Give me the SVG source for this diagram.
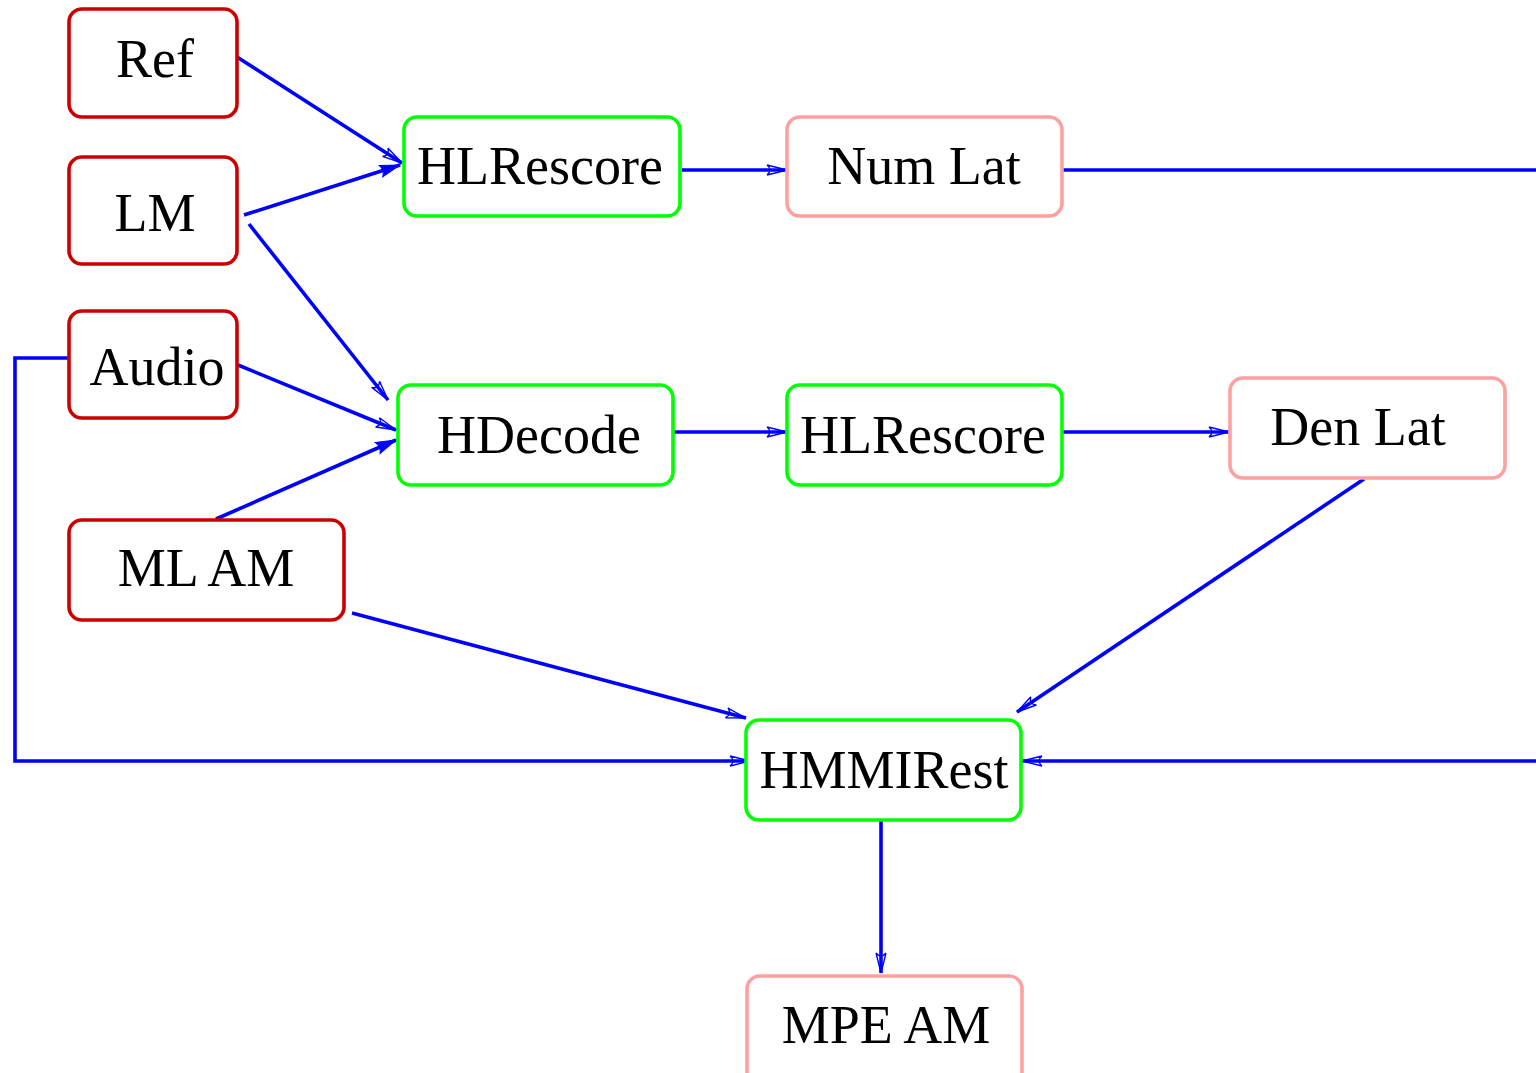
<svg xmlns="http://www.w3.org/2000/svg" width="1536" height="1073" viewBox="0 0 1536 1073">
  <style>
    .box { fill: #ffffff; stroke-width: 3.6; }
    .src { stroke: #cc0000; }
    .tool { stroke: #00ff00; }
    .data { stroke: #ffa0a0; }
    .lbl { font-family: "Liberation Serif", "Times New Roman", serif; font-size: 54px; fill: #000000; text-anchor: middle; }
    .wire { fill: none; stroke: #0000ff; stroke-width: 3.6; }
  </style>
  <defs>
    <!-- open stealth-style head -->
    <marker id="open" markerUnits="userSpaceOnUse" markerWidth="30" markerHeight="20" viewBox="-24 -10 30 20" refX="0" refY="0" orient="auto">
      <path d="M -20,-5 L 0,0 L -20,5 M -20,-5 Q -14,0 -20,5" fill="none" stroke="#0000ff" stroke-width="1.4"/>
    </marker>
    <!-- solid head -->
    <marker id="solid" markerUnits="userSpaceOnUse" markerWidth="30" markerHeight="20" viewBox="-24 -10 30 20" refX="0" refY="0" orient="auto">
      <path d="M -20,-6 L 0,0 L -20,6 Q -16,0 -20,-6 Z" fill="#0000ff" stroke="#0000ff" stroke-width="1"/>
    </marker>
  </defs>

  <g id="connectors">
    <path class="wire" d="M 237,57 L 402,163" marker-end="url(#open)"/>
    <path class="wire" d="M 244,215 L 400,165" marker-end="url(#solid)"/>
    <path class="wire" d="M 249,224 L 388,400" marker-end="url(#open)"/>
    <path class="wire" d="M 238,365 L 396,430" marker-end="url(#open)"/>
    <path class="wire" d="M 216,519 L 396,440" marker-end="url(#solid)"/>
    <path class="wire" d="M 682,170 L 787,170" marker-end="url(#open)"/>
    <path class="wire" d="M 1062,170 L 1536,170"/>
    <path class="wire" d="M 673,432 L 787,432" marker-end="url(#open)"/>
    <path class="wire" d="M 1062,432 L 1229,432" marker-end="url(#open)"/>
    <path class="wire" d="M 1364,479 L 1017,712" marker-end="url(#open)"/>
    <path class="wire" d="M 352,613 L 746,718" marker-end="url(#open)"/>
    <path class="wire" d="M 69,358 L 15,358 L 15,761 L 750,761" marker-end="url(#open)"/>
    <path class="wire" d="M 1536,761 L 1022,761" marker-end="url(#open)"/>
    <path class="wire" d="M 881,820 L 881,973" marker-end="url(#open)"/>
  </g>

  <g id="ref">
    <rect class="box src" x="69" y="9" width="168" height="108" rx="13"/>
    <text class="lbl" x="155" y="77">Ref</text>
  </g>
  <g id="lm">
    <rect class="box src" x="69" y="157" width="168" height="107" rx="13"/>
    <text class="lbl" x="155" y="231">LM</text>
  </g>
  <g id="audio">
    <rect class="box src" x="69" y="311" width="168" height="107" rx="13"/>
    <text class="lbl" x="157" y="385">Audio</text>
  </g>
  <g id="ml-am">
    <rect class="box src" x="69" y="520" width="275" height="100" rx="13"/>
    <text class="lbl" x="206" y="586">ML AM</text>
  </g>
  <g id="hlrescore-num">
    <rect class="box tool" x="404" y="117" width="276" height="99" rx="13"/>
    <text class="lbl" x="540" y="184">HLRescore</text>
  </g>
  <g id="num-lat">
    <rect class="box data" x="787" y="117" width="275" height="99" rx="13"/>
    <text class="lbl" x="924" y="184">Num Lat</text>
  </g>
  <g id="hdecode">
    <rect class="box tool" x="398" y="385" width="275" height="100" rx="13"/>
    <text class="lbl" x="539" y="453">HDecode</text>
  </g>
  <g id="hlrescore-den">
    <rect class="box tool" x="787" y="385" width="275" height="100" rx="13"/>
    <text class="lbl" x="923" y="453">HLRescore</text>
  </g>
  <g id="den-lat">
    <rect class="box data" x="1230" y="378" width="275" height="100" rx="13"/>
    <text class="lbl" x="1358" y="445">Den Lat</text>
  </g>
  <g id="hmmirest">
    <rect class="box tool" x="746" y="720" width="275" height="100" rx="13"/>
    <text class="lbl" x="884" y="788">HMMIRest</text>
  </g>
  <g id="mpe-am">
    <rect class="box data" x="747" y="976" width="275" height="110" rx="13"/>
    <text class="lbl" x="886" y="1043">MPE AM</text>
  </g>
</svg>
